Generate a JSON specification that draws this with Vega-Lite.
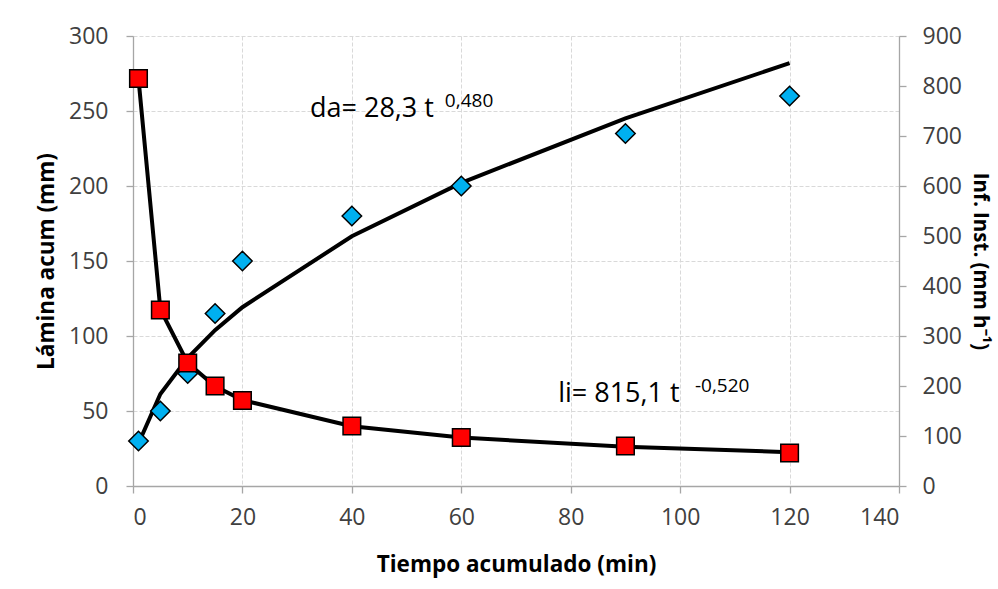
{
  "$schema": "https://vega.github.io/schema/vega-lite/v6.json",
  "width": 766,
  "height": 450,
  "autosize": {"type": "none"},
  "padding": {"left": 133, "top": 36, "right": 99, "bottom": 103},
  "background": "white",
  "config": {
    "view": {"stroke": null},
    "font": "Open Sans",
    "axis": {
      "domainColor": "#a6a6a6",
      "domainWidth": 1.3,
      "tickColor": "#a6a6a6",
      "tickWidth": 1.3,
      "tickSize": 7,
      "labelFont": "Open Sans",
      "labelFontSize": 23,
      "labelColor": "#404040",
      "titleFont": "Open Sans",
      "titleFontSize": 22.5,
      "titleFontWeight": "bold",
      "titleColor": "#000000",
      "gridColor": "#d9d9d9",
      "gridDash": [4, 2],
      "gridWidth": 1
    }
  },
  "datasets": {
    "obs": [
      {"t": 1, "lamina": 30, "lamina_fit": 28.3, "inf": 815, "inf_fit": 815.1},
      {"t": 5, "lamina": 50, "lamina_fit": 61.3, "inf": 352, "inf_fit": 353.0},
      {"t": 10, "lamina": 75, "lamina_fit": 85.5, "inf": 246, "inf_fit": 246.2},
      {"t": 15, "lamina": 115, "lamina_fit": 103.9, "inf": 200, "inf_fit": 199.3},
      {"t": 20, "lamina": 150, "lamina_fit": 119.2, "inf": 171, "inf_fit": 171.7},
      {"t": 40, "lamina": 180, "lamina_fit": 166.5, "inf": 120, "inf_fit": 119.6},
      {"t": 60, "lamina": 200, "lamina_fit": 202.1, "inf": 97, "inf_fit": 96.9},
      {"t": 90, "lamina": 235, "lamina_fit": 245.1, "inf": 80, "inf_fit": 78.5},
      {"t": 120, "lamina": 260, "lamina_fit": 281.9, "inf": 66, "inf_fit": 67.6}
    ],
    "notes": [
      {"kind": "main", "label": "da= 28,3 t", "t": 32.35, "v": 246},
      {"kind": "sup", "label": "0,480", "t": 57.0, "v": 252.9},
      {"kind": "main", "label": "li= 815,1 t", "t": 77.7, "v": 56.2},
      {"kind": "sup", "label": "-0,520", "t": 102.7, "v": 62.9}
    ]
  },
  "layer": [
    {
      "layer": [
        {
          "data": {"name": "obs"},
          "mark": {"type": "line", "color": "#000000", "strokeWidth": 4},
          "encoding": {
            "x": {"field": "t", "type": "quantitative", "scale": {"domain": [0, 140]},
              "axis": {"title": "Tiempo acumulado (min)", "values": [0, 20, 40, 60, 80, 100, 120, 140], "labelPadding": 13, "titlePadding": 24, "grid": true}},
            "y": {"field": "lamina_fit", "type": "quantitative", "scale": {"domain": [0, 300]},
              "axis": {"title": "Lámina acum (mm)", "values": [0, 50, 100, 150, 200, 250, 300], "labelPadding": 18, "titlePadding": 10, "grid": true}}
          }
        },
        {
          "data": {"name": "obs"},
          "mark": {"type": "point", "shape": "diamond", "filled": true, "fill": "#00B0F0", "stroke": "#000000", "strokeWidth": 1.5, "size": 380, "opacity": 1},
          "encoding": {
            "x": {"field": "t", "type": "quantitative"},
            "y": {"field": "lamina", "type": "quantitative"}
          }
        },
        {
          "data": {"name": "notes"},
          "transform": [{"filter": "datum.kind === 'main'"}],
          "mark": {"type": "text", "align": "left", "baseline": "alphabetic", "fontSize": 27, "color": "#000000", "font": "Open Sans"},
          "encoding": {
            "x": {"field": "t", "type": "quantitative"},
            "y": {"field": "v", "type": "quantitative"},
            "text": {"field": "label"}
          }
        },
        {
          "data": {"name": "notes"},
          "transform": [{"filter": "datum.kind === 'sup'"}],
          "mark": {"type": "text", "align": "left", "baseline": "alphabetic", "fontSize": 19, "color": "#000000", "font": "Open Sans"},
          "encoding": {
            "x": {"field": "t", "type": "quantitative"},
            "y": {"field": "v", "type": "quantitative"},
            "text": {"field": "label"}
          }
        }
      ]
    },
    {
      "layer": [
        {
          "data": {"name": "obs"},
          "mark": {"type": "line", "color": "#000000", "strokeWidth": 4},
          "encoding": {
            "x": {"field": "t", "type": "quantitative"},
            "y": {"field": "inf_fit", "type": "quantitative", "scale": {"domain": [0, 900]},
              "axis": {"orient": "right", "title": "Inf. Inst. (mm h⁻¹)", "titleFontSize": 20.5, "values": [0, 100, 200, 300, 400, 500, 600, 700, 800, 900], "labelPadding": 16, "titlePadding": 8, "grid": false}}
          }
        },
        {
          "data": {"name": "obs"},
          "mark": {"type": "point", "shape": "square", "filled": true, "fill": "#FF0000", "stroke": "#000000", "strokeWidth": 1.5, "size": 310, "opacity": 1},
          "encoding": {
            "x": {"field": "t", "type": "quantitative"},
            "y": {"field": "inf", "type": "quantitative"}
          }
        }
      ]
    }
  ],
  "resolve": {"scale": {"y": "independent"}}
}
